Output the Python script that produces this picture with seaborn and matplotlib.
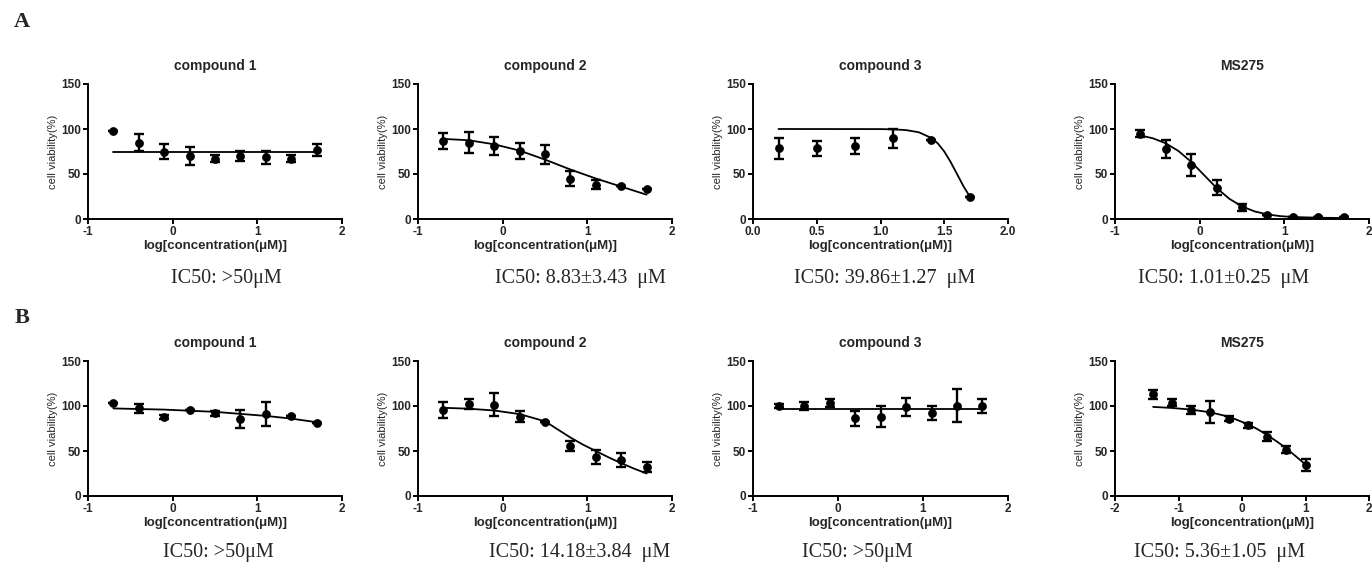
import numpy as np
import pandas as pd
import seaborn as sns
import matplotlib.pyplot as plt

# log concentrations used in the assays
x_std = [-0.7, -0.4, -0.1, 0.2, 0.5, 0.8, 1.1, 1.4, 1.7]
x_c3a = [0.2, 0.5, 0.8, 1.1, 1.4, 1.7]
x_msb = [-1.4, -1.1, -0.8, -0.5, -0.2, 0.1, 0.4, 0.7, 1.0]

# row A
a1_mean = [98, 85, 75, 70, 67, 70, 68.5, 67, 76.5]
a1_sd = [0, 9.5, 8, 10, 4, 6, 7, 4, 7]
a1_fit_x = [-0.7, 1.7]
a1_fit_y = [75, 75]

a2_mean = [87, 85, 81.5, 76, 72, 45, 38, 37, 33.5]
a2_sd = [9, 12, 10, 9, 10.5, 8.5, 5, 0, 0]
a2_fit_x = [-0.7, -0.4, -0.1, 0.2, 0.5, 0.8, 1.1, 1.4, 1.7]
a2_fit_y = [89, 87.5, 83, 76, 66, 55, 45, 36, 27]

a3_mean = [78.5, 78.5, 81.5, 89.5, 88, 25]
a3_sd = [12, 8.5, 9, 11, 0, 0]
a3_fit_x = [0.2, 1.0, 1.1, 1.2, 1.3, 1.4, 1.45, 1.5, 1.55, 1.6, 1.65, 1.7]
a3_fit_y = [100, 99.9, 99.6, 98.8, 96.4, 90, 83.9, 75, 63.4, 50, 36.6, 25]

a4_mean = [95, 78, 60, 35, 13, 4.5, 2, 2, 2]
a4_sd = [4, 10, 12.5, 8, 4, 0, 0, 0, 0]
a4_fit_x = [-0.7, -0.55, -0.4, -0.25, -0.1, 0.05, 0.2, 0.35, 0.5, 0.65, 0.8, 0.95, 1.1, 1.4, 1.7]
a4_fit_y = [92.9, 89.6, 84.1, 75.5, 63.5, 49, 34.5, 22.5, 13.9, 8.4, 5.1, 3.2, 2.2, 1.4, 1.1]

# row B
b1_mean = [103, 97.5, 88, 96, 92, 86, 91, 88.5, 81.5]
b1_sd = [0, 5, 2.5, 0, 3, 10, 13.5, 0, 0]
b1_fit_x = [-0.7, -0.1, 0.5, 1.1, 1.4, 1.7]
b1_fit_y = [97.3, 96, 93.5, 89, 86, 82]

b2_mean = [95.5, 102, 101.5, 88, 82.5, 55.5, 43.5, 40, 32.5]
b2_sd = [9, 5.5, 13, 6, 0, 6, 7.5, 8, 5.5]
b2_fit_x = [-0.7, -0.4, -0.1, 0.2, 0.5, 0.8, 0.95, 1.1, 1.25, 1.4, 1.55, 1.7]
b2_fit_y = [98, 97, 95, 91, 83, 65, 57, 50, 43, 36.5, 30.5, 25]

b3_mean = [100.3, 100, 103, 86.5, 88, 98.5, 92.5, 100.3, 100]
b3_sd = [2, 4.5, 4.5, 8.5, 11.5, 10, 7.5, 18.5, 7.5]
b3_fit_x = [-0.7, 1.7]
b3_fit_y = [96.5, 96.5]

b4_mean = [113, 103.5, 95.5, 93.5, 86, 78.5, 66, 51.5, 34.5]
b4_sd = [5, 4, 4, 12, 3, 3, 5, 4, 7]
b4_fit_x = [-1.4, -1.1, -0.8, -0.5, -0.2, 0.1, 0.25, 0.4, 0.55, 0.7, 0.85, 1.0]
b4_fit_y = [99, 97.8, 96, 93, 88, 79.5, 74, 67.6, 60.5, 52.8, 44, 35]

titles = ["compound 1", "compound 2", "compound 3", "MS275"]
ic50_a = ["IC50: >50\u03bcM", "IC50: 8.83\u00b13.43  \u03bcM", "IC50: 39.86\u00b11.27  \u03bcM", "IC50: 1.01\u00b10.25  \u03bcM"]
ic50_b = ["IC50: >50\u03bcM", "IC50: 14.18\u00b13.84  \u03bcM", "IC50: >50\u03bcM", "IC50: 5.36\u00b11.05  \u03bcM"]

W, H = 1372, 562

sns.set_theme(style="ticks")
plt.rcParams["font.family"] = ["Liberation Sans", "DejaVu Sans"]

fig = plt.figure(figsize=(W / 100, H / 100), dpi=100)


def px_rect(left, right, top, bottom):
    return [left / W, 1 - bottom / H, (right - left) / W, (bottom - top) / H]


cols = [(88, 342), (418, 672), (753, 1008), (1115, 1369)]
rows = [(84, 219), (361, 496)]

panels = [
    [(x_std, a1_mean, a1_sd, a1_fit_x, a1_fit_y, (-1, 2), [-1, 0, 1, 2]),
     (x_std, a2_mean, a2_sd, a2_fit_x, a2_fit_y, (-1, 2), [-1, 0, 1, 2]),
     (x_c3a, a3_mean, a3_sd, a3_fit_x, a3_fit_y, (0, 2), [0.0, 0.5, 1.0, 1.5, 2.0]),
     (x_std, a4_mean, a4_sd, a4_fit_x, a4_fit_y, (-1, 2), [-1, 0, 1, 2])],
    [(x_std, b1_mean, b1_sd, b1_fit_x, b1_fit_y, (-1, 2), [-1, 0, 1, 2]),
     (x_std, b2_mean, b2_sd, b2_fit_x, b2_fit_y, (-1, 2), [-1, 0, 1, 2]),
     (x_std, b3_mean, b3_sd, b3_fit_x, b3_fit_y, (-1, 2), [-1, 0, 1, 2]),
     (x_msb, b4_mean, b4_sd, b4_fit_x, b4_fit_y, (-2, 2), [-2, -1, 0, 1, 2])],
]

for r, (top, bottom) in enumerate(rows):
    for c, (left, right) in enumerate(cols):
        xs, mean, sd, fx, fy, xlim, xticks = panels[r][c]
        ax = fig.add_axes(px_rect(left, right, top, bottom))
        df = pd.DataFrame({"x": xs, "y": mean})
        fit = pd.DataFrame({"x": fx, "y": fy})
        sns.lineplot(data=fit, x="x", y="y", ax=ax, color="black", lw=1.3)
        ax.errorbar(xs, mean, yerr=sd, fmt="none", ecolor="black",
                    elinewidth=1.7, capsize=3.5, capthick=1.7)
        sns.scatterplot(data=df, x="x", y="y", ax=ax, color="black", s=40,
                        edgecolor="black", linewidth=0, zorder=5)
        ax.set_xlim(*xlim)
        ax.set_ylim(0, 150)
        ax.set_xticks(xticks)
        if xlim == (0, 2):
            ax.set_xticklabels([f"{t:.1f}" for t in xticks])
        else:
            ax.set_xticklabels([str(t) for t in xticks])
        ax.set_yticks([0, 50, 100, 150])
        for s in ["top", "right"]:
            ax.spines[s].set_visible(False)
        for s in ["left", "bottom"]:
            ax.spines[s].set_linewidth(1.4)
            ax.spines[s].set_color("black")
        ax.tick_params(axis="both", length=3.5, width=1.4, color="black",
                       labelsize=8.5, pad=1.5)
        for lab in ax.get_xticklabels() + ax.get_yticklabels():
            lab.set_fontweight("bold")
        ax.set_xlabel("log[concentration(\u03bcM)]", fontsize=9.5,
                      fontweight="bold", labelpad=1.5)
        ax.set_ylabel("cell viability(%)", fontsize=8, labelpad=2)
        ax.set_title(titles[c], fontsize=10, fontweight="bold", pad=10)

ic50_pos_a = [226, 580, 885, 1224]
ic50_pos_b = [218, 580, 857, 1220]
for xc, t in zip(ic50_pos_a, ic50_a):
    fig.text(xc / W, 1 - 278 / H, t, ha="center", va="center",
             family=["Liberation Serif", "DejaVu Serif"], fontsize=14.5)
for xc, t in zip(ic50_pos_b, ic50_b):
    fig.text(xc / W, 1 - 552 / H, t, ha="center", va="center",
             family=["Liberation Serif", "DejaVu Serif"], fontsize=14.5)

fig.text(22 / W, 1 - 22 / H, "A", ha="center", va="center", fontweight="bold",
         family=["Liberation Serif", "DejaVu Serif"], fontsize=16)
fig.text(22 / W, 1 - 318 / H, "B", ha="center", va="center", fontweight="bold",
         family=["Liberation Serif", "DejaVu Serif"], fontsize=16)

fig.savefig("out.png", dpi=100)
